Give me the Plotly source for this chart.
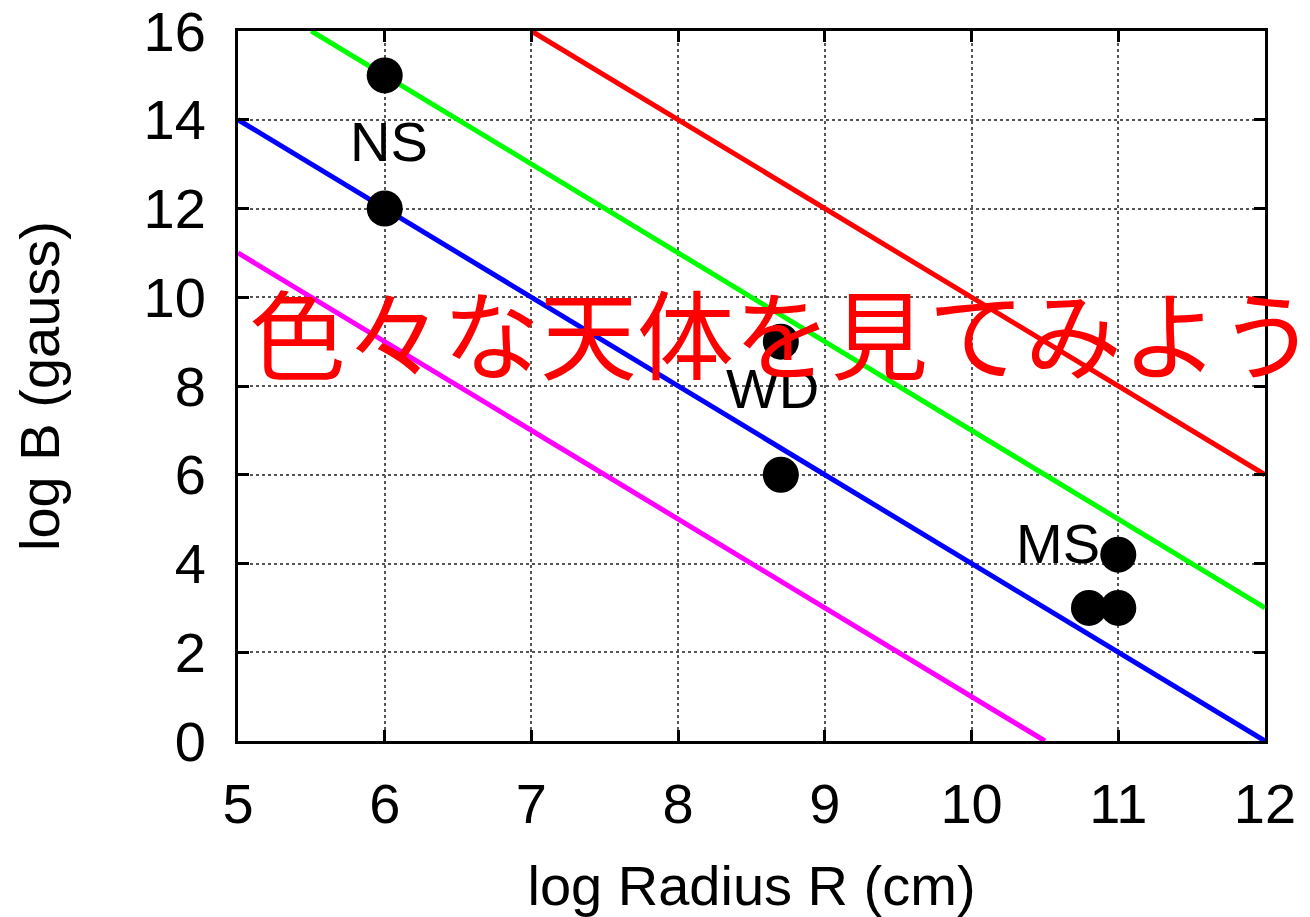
import plotly.graph_objects as go

# Reference lines log B = const - 2 log R, given by their end points
red_x, red_y = [7, 12], [16, 6]
green_x, green_y = [5.5, 12], [16, 3]
blue_x, blue_y = [5, 12], [14, 0]
magenta_x, magenta_y = [5, 10.5], [11, 0]

# Objects: neutron stars, white dwarfs, main-sequence stars
obj_x = [6, 6, 8.7, 8.7, 11, 10.8, 11]
obj_y = [15, 12, 9, 6, 4.2, 3, 3]

labels = ["NS", "WD", "MS"]
label_x = [6.03, 8.64, 10.59]
label_y = [13.5, 7.95, 4.45]

x_ticks = [5, 6, 7, 8, 9, 10, 11, 12]
y_ticks = [0, 2, 4, 6, 8, 10, 12, 14, 16]

FONT = "Liberation Sans, Arial, sans-serif"
FS = 56

fig = go.Figure()
for xs, ys, col in [(red_x, red_y, "#ff0000"), (green_x, green_y, "#00ff00"),
                    (blue_x, blue_y, "#0000ff"), (magenta_x, magenta_y, "#ff00ff")]:
    fig.add_trace(go.Scatter(x=xs, y=ys, mode="lines",
                             line=dict(color=col, width=5), showlegend=False,
                             hoverinfo="skip"))

fig.add_trace(go.Scatter(x=obj_x, y=obj_y, mode="markers",
                         marker=dict(color="black", size=36), showlegend=False))

annotations = []
for t, lx, ly in zip(labels, label_x, label_y):
    annotations.append(dict(x=lx, y=ly, xref="x", yref="y", text=t,
                            showarrow=False,
                            font=dict(family=FONT, size=FS, color="black")))

annotations.append(dict(x=0.53, y=0.58, xref="paper", yref="paper",
                        text="色々な天体を見てみよう", showarrow=False,
                        xanchor="center", yanchor="middle",
                        font=dict(family="Noto Sans CJK JP", size=97,
                                  color="#ff0000")))

axis_common = dict(showline=True, linecolor="black", linewidth=3,
                   mirror="ticks", ticks="inside", ticklen=11, tickwidth=3,
                   tickcolor="black", showgrid=True, gridcolor="#555555",
                   gridwidth=1.5, griddash="dot", zeroline=False,
                   automargin=False, ticklabeloverflow="allow",
                   tickfont=dict(family=FONT, size=FS, color="black"))

fig.update_xaxes(range=[5, 12], tickvals=x_ticks, ticklabelstandoff=12,
                 title=dict(text="log Radius R (cm)", standoff=34,
                            font=dict(family=FONT, size=FS, color="black")),
                 **axis_common)
fig.update_yaxes(range=[0, 16], tickvals=y_ticks, ticklabelstandoff=18,
                 title=dict(text="log B (gauss)", standoff=66,
                            font=dict(family=FONT, size=FS, color="black")),
                 **axis_common)

fig.update_layout(width=1310, height=917,
                  margin=dict(l=238, r=45, t=31, b=176),
                  plot_bgcolor="white", paper_bgcolor="white",
                  annotations=annotations)

fig.write_html("out.html")
